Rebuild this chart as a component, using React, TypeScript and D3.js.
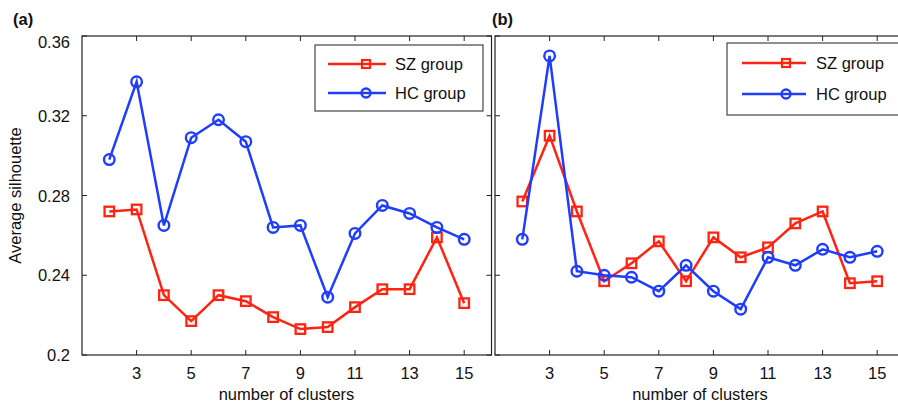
import React from "react";
import * as d3 from "d3";

const clusters = [2, 3, 4, 5, 6, 7, 8, 9, 10, 11, 12, 13, 14, 15];
const szA = [0.272, 0.273, 0.230, 0.217, 0.230, 0.227, 0.219, 0.213, 0.214, 0.224, 0.233, 0.233, 0.259, 0.226];
const hcA = [0.298, 0.337, 0.265, 0.309, 0.318, 0.307, 0.264, 0.265, 0.229, 0.261, 0.275, 0.271, 0.264, 0.258];
const szB = [0.277, 0.310, 0.272, 0.237, 0.246, 0.257, 0.237, 0.259, 0.249, 0.254, 0.266, 0.272, 0.236, 0.237];
const hcB = [0.258, 0.350, 0.242, 0.240, 0.239, 0.232, 0.245, 0.232, 0.223, 0.249, 0.245, 0.253, 0.249, 0.252];
const xTicks = [3, 5, 7, 9, 11, 13, 15];
const yTicks = [0.2, 0.24, 0.28, 0.32, 0.36];
const yTickLabels = ["0.2", "0.24", "0.28", "0.32", "0.36"];
const seriesNames = ["SZ group", "HC group"];

const RED = "#ff2312";
const BLUE = "#1f3dff";
const FONT = "'Liberation Sans', Arial, Helvetica, sans-serif";

const TOP = 36;
const BOTTOM = 355;

type PanelProps = {
  x0: number;
  x1: number;
  sz: number[];
  hc: number[];
  showY: boolean;
  legend: { x: number; y: number; w: number; h: number; lx0: number; lx1: number; mx: number; tx: number; r1: number; r2: number };
};

function Square({ cx, cy, s, color, sw }: { cx: number; cy: number; s: number; color: string; sw: number }) {
  return <rect x={cx - s / 2} y={cy - s / 2} width={s} height={s} fill="none" stroke={color} strokeWidth={sw} />;
}

function Panel({ x0, x1, sz, hc, showY, legend }: PanelProps) {
  const x = d3.scaleLinear().domain([1, 16]).range([x0, x1]);
  const y = d3.scaleLinear().domain([0.2, 0.36]).range([BOTTOM, TOP]);
  const line = d3
    .line<number>()
    .x((_, i) => x(clusters[i]))
    .y((d) => y(d));
  const tickLen = 5;
  return (
    <g>
      <rect x={x0} y={TOP} width={x1 - x0} height={BOTTOM - TOP} fill="none" stroke="#222" strokeWidth={1.2} />
      {xTicks.map((t) => (
        <g key={"xt" + t}>
          <line x1={x(t)} x2={x(t)} y1={BOTTOM} y2={BOTTOM - tickLen} stroke="#222" strokeWidth={1} />
          <line x1={x(t)} x2={x(t)} y1={TOP} y2={TOP + tickLen} stroke="#222" strokeWidth={1} />
          <text x={x(t)} y={379} textAnchor="middle" fontSize={16.5} fontFamily={FONT} fill="#111">
            {t}
          </text>
        </g>
      ))}
      {yTicks.map((t, i) => (
        <g key={"yt" + t}>
          <line x1={x0} x2={x0 + tickLen} y1={y(t)} y2={y(t)} stroke="#222" strokeWidth={1} />
          <line x1={x1} x2={x1 - tickLen} y1={y(t)} y2={y(t)} stroke="#222" strokeWidth={1} />
          {showY && (
            <text
              x={x0 - 12}
              y={y(t) + (i === yTicks.length - 1 ? 12 : 6)}
              textAnchor="end"
              fontSize={16.5}
              fontFamily={FONT}
              fill="#111"
            >
              {yTickLabels[i]}
            </text>
          )}
        </g>
      ))}
      <path d={line(sz) || ""} fill="none" stroke={RED} strokeWidth={2.5} />
      {sz.map((v, i) => (
        <Square key={"s" + i} cx={x(clusters[i])} cy={y(v)} s={9.5} color={RED} sw={2.3} />
      ))}
      <path d={line(hc) || ""} fill="none" stroke={BLUE} strokeWidth={2.5} />
      {hc.map((v, i) => (
        <circle key={"c" + i} cx={x(clusters[i])} cy={y(v)} r={5.3} fill="none" stroke={BLUE} strokeWidth={2.4} />
      ))}
      <rect x={legend.x} y={legend.y} width={legend.w} height={legend.h} fill="#fff" stroke="#444" strokeWidth={1.2} />
      <line x1={legend.lx0} x2={legend.lx1} y1={legend.r1} y2={legend.r1} stroke={RED} strokeWidth={2.5} />
      <Square cx={legend.mx} cy={legend.r1} s={8} color={RED} sw={2.2} />
      <text x={legend.tx} y={legend.r1 + 6} fontSize={16.5} fontFamily={FONT} fill="#111">
        {seriesNames[0]}
      </text>
      <line x1={legend.lx0} x2={legend.lx1} y1={legend.r2} y2={legend.r2} stroke={BLUE} strokeWidth={2.5} />
      <circle cx={legend.mx} cy={legend.r2} r={4.5} fill="none" stroke={BLUE} strokeWidth={2.4} />
      <text x={legend.tx} y={legend.r2 + 6} fontSize={16.5} fontFamily={FONT} fill="#111">
        {seriesNames[1]}
      </text>
    </g>
  );
}

export default function App() {
  return (
    <svg
      width={898}
      height={409}
      viewBox="0 0 898 409"
      style={{ position: "absolute", left: 0, top: 0, background: "#fff" }}
    >
      <rect x={0} y={0} width={898} height={409} fill="#fff" />
      <Panel
        x0={82}
        x1={491.5}
        sz={szA}
        hc={hcA}
        showY={true}
        legend={{ x: 315, y: 45, w: 168, h: 66, lx0: 328, lx1: 386, mx: 366, tx: 395, r1: 64, r2: 93 }}
      />
      <Panel
        x0={495}
        x1={904.5}
        sz={szB}
        hc={hcB}
        showY={false}
        legend={{ x: 727, y: 43, w: 190, h: 72, lx0: 742, lx1: 806, mx: 786, tx: 816, r1: 63, r2: 94 }}
      />
      <text x={13} y={25} fontSize={16.5} fontWeight="bold" fontFamily={FONT} fill="#111">
        (a)
      </text>
      <text x={492} y={25} fontSize={16.5} fontWeight="bold" fontFamily={FONT} fill="#111">
        (b)
      </text>
      <text
        transform={`translate(21,${(TOP + BOTTOM) / 2}) rotate(-90)`}
        textAnchor="middle"
        fontSize={16.5}
        fontFamily={FONT}
        fill="#111"
      >
        Average silhouette
      </text>
      <text x={286.5} y={400} textAnchor="middle" fontSize={16.5} fontFamily={FONT} fill="#111">
        number of clusters
      </text>
      <text x={700} y={400} textAnchor="middle" fontSize={16.5} fontFamily={FONT} fill="#111">
        number of clusters
      </text>
    </svg>
  );
}
